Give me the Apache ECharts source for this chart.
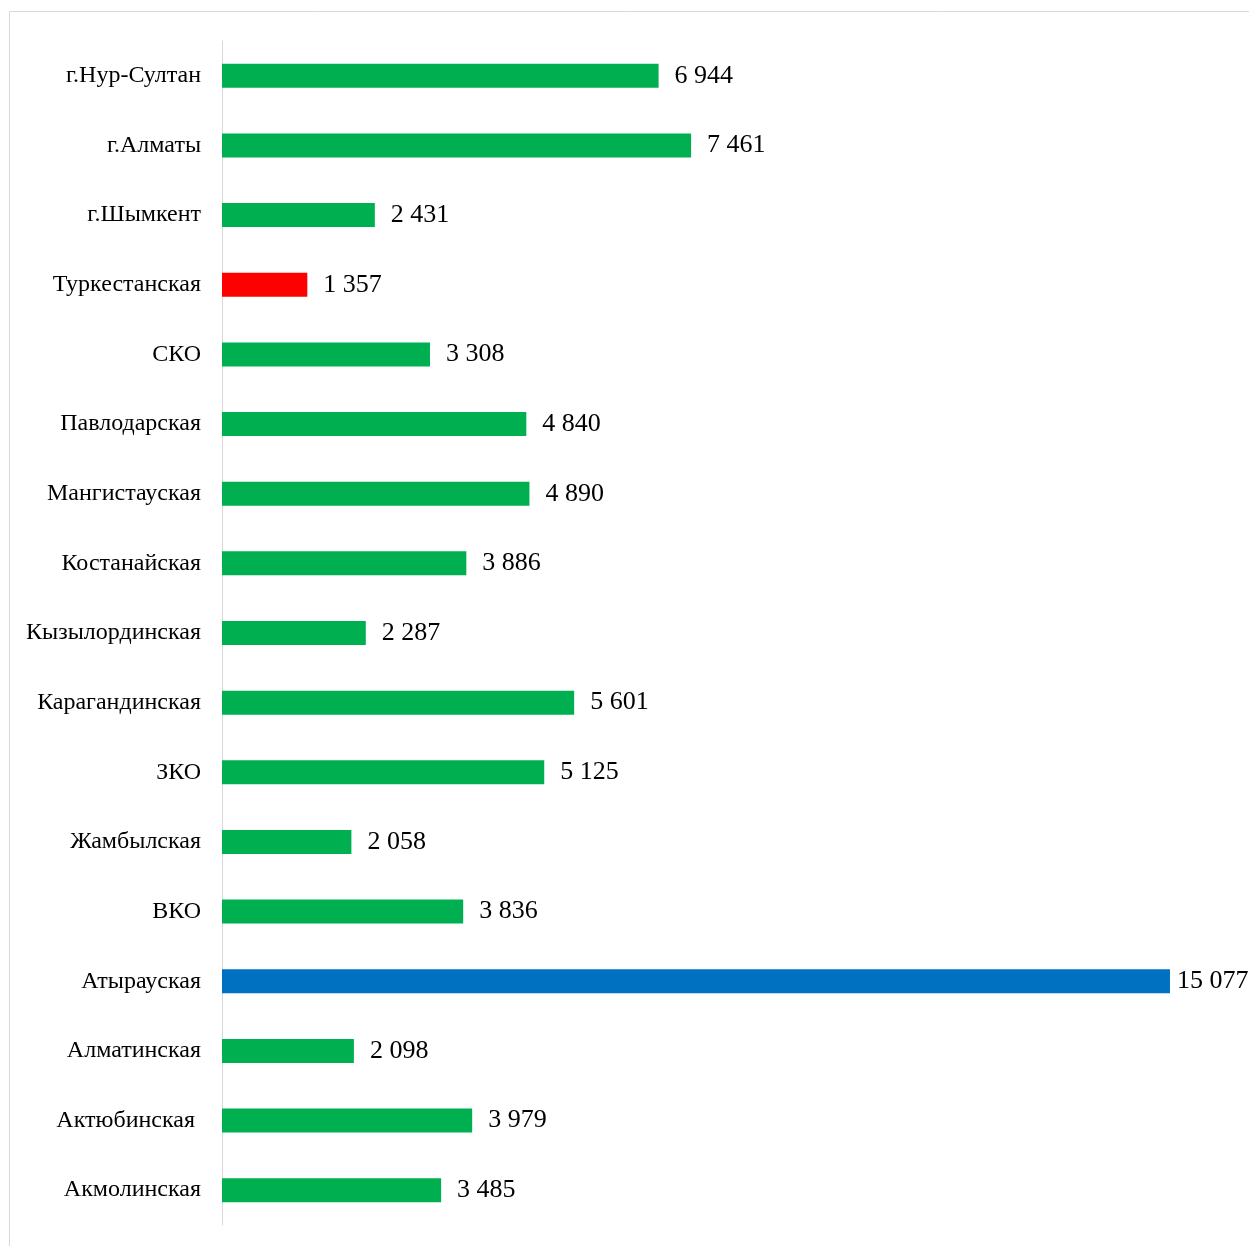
<!DOCTYPE html>
<html><head><meta charset="utf-8">
<script src="https://cdn.jsdelivr.net/npm/echarts@6/dist/echarts.min.js"></script>
<style>html,body{margin:0;padding:0;background:#fff}#c{width:1249px;height:1246px}</style>
</head><body><div id="c"></div>
<script>
const categories = ['г.Нур-Султан','г.Алматы','г.Шымкент','Туркестанская','СКО','Павлодарская','Мангистауская','Костанайская','Кызылординская','Карагандинская','ЗКО','Жамбылская','ВКО','Атырауская','Алматинская','Актюбинская ','Акмолинская'];
const values = [6944,7461,2431,1357,3308,4840,4890,3886,2287,5601,5125,2058,3836,15077,2098,3979,3485];
const highlightRed = 'Туркестанская';
const highlightBlue = 'Атырауская';
const colors = {normal:'#00B050', red:'#FF0000', blue:'#0070C0'};

const chart = echarts.init(document.getElementById('c'), null, {renderer:'canvas'});
chart.setOption({
  animation:false,
  graphic:[{type:'rect', shape:{x:9.5,y:11.5,width:1260,height:1260}, style:{fill:'none', stroke:'#d9d9d9', lineWidth:1}, z:-1}],
  grid:{left:222, right:21, top:41, bottom:21, containLabel:false},
  xAxis:{type:'value', min:0, max:16000, show:false},
  yAxis:{type:'category', data:categories, inverse:true,
    axisLine:{show:true, lineStyle:{color:'#d9d9d9', width:1}},
    axisTick:{show:false},
    axisLabel:{fontFamily:'Liberation Serif', fontSize:24, color:'#000', margin:21}
  },
  series:[{type:'bar', barWidth:24,
    data: values.map((v,i)=>{
      const isBlue = categories[i]===highlightBlue;
      const o = {value:v, itemStyle:{color: categories[i]===highlightRed?colors.red:(isBlue?colors.blue:colors.normal)}};
      if (isBlue) o.label = {distance:7};
      return o;
    }),
    label:{show:true, position:'right', distance:16, fontFamily:'Liberation Serif', fontSize:26, color:'#000',
      formatter:p=>String(p.value).replace(/\B(?=(\d{3})+(?!\d))/g,' ')}
  }]
});
</script></body></html>
